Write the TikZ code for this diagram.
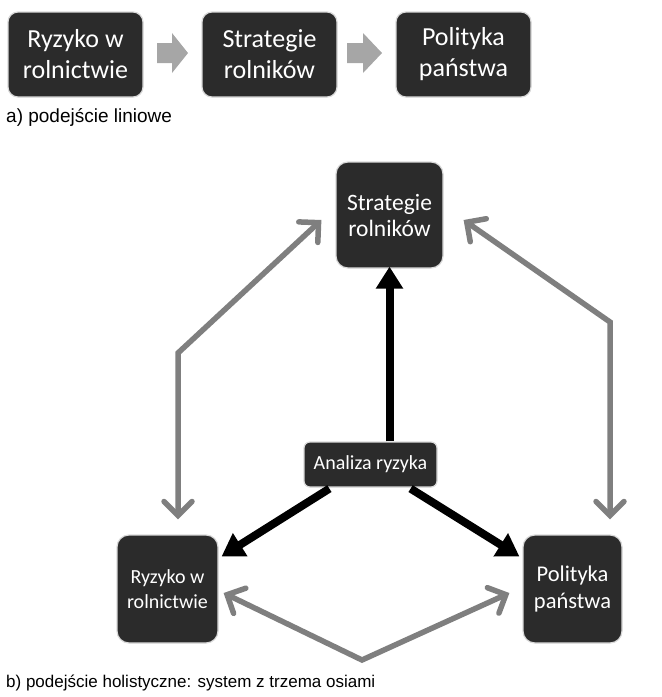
\documentclass[tikz,border=0pt]{standalone}
\usepackage{fontspec}
\setmainfont{Carlito}
\newfontfamily\capfont{Liberation Sans}
\usetikzlibrary{arrows.meta,calc}
\definecolor{boxfill}{HTML}{2B2B2B}
\definecolor{boxedge}{HTML}{D9D9D9}
\definecolor{grayarrow}{HTML}{7F7F7F}
\definecolor{blockarrow}{HTML}{A6A6A6}
\tikzset{
  box/.style={draw=boxedge, line width=1.2pt, fill=boxfill, rounded corners=10pt,
    text=white, align=center, inner sep=0pt},
  topbox/.style={box, minimum width=135pt, minimum height=85pt,
    font=\fontsize{26}{31}\selectfont},
  grayline/.style={draw=grayarrow, line width=5.5pt,
    {Straight Barb[length=14pt,width=28pt,line cap=round]}-{Straight Barb[length=14pt,width=28pt,line cap=round]}},
  blackline/.style={draw=black, line width=8pt, -{Triangle[length=22pt,width=26pt]}},
  caption/.style={anchor=west, inner sep=0pt},
}
\begin{document}
\begin{tikzpicture}[x=1pt,y=-1pt]
\useasboundingbox (0,0) rectangle (662,697);
% top row
\node[topbox] (r1) at (75.5,54.5) {Ryzyko w\\rolnictwie};
\node[topbox] (s1) at (269.5,54.5) {Strategie\\rolników};
\node[topbox] (p1) at (463.5,54.5) {Polityka\\państwa};
\fill[blockarrow] (157,43) -- (172,43) -- (172,33) -- (188,53) -- (172,73) -- (172,63) -- (157,63) -- cycle;
\fill[blockarrow] (347,43) -- (363,43) -- (363,33) -- (382,53) -- (363,73) -- (363,63) -- (347,63) -- cycle;
\node[caption, font=\capfont\fontsize{19}{22}\selectfont] (capa) at (6,117) {a) podejście liniowe};
% bottom
\node[box, minimum width=107pt, minimum height=106pt, rounded corners=12pt,
  font=\fontsize{23.5}{26}\selectfont] (st) at (389.5,215) {Strategie\\rolników};
\node[box, minimum width=133pt, minimum height=45pt, rounded corners=6pt,
  font=\fontsize{20}{22}\selectfont] (an) at (370.5,464.5) {Analiza ryzyka};
\node[box, minimum width=101pt, minimum height=108pt, rounded corners=12pt,
  font=\fontsize{20}{25}\selectfont] (ry) at (167.5,589) {Ryzyko w\\rolnictwie};
\node[box, minimum width=99pt, minimum height=108pt, rounded corners=12pt,
  font=\fontsize{22.5}{27}\selectfont] (po) at (572.5,589) {Polityka\\państwa};
% black arrows
\draw[blackline] (an.north -| st.south) -- ([yshift=2pt]st.south);
\draw[blackline] ($(an.south west)+(26,1)$) -- ($(ry.north east)+(3,22)$);
\draw[blackline] ($(an.south east)+(-27,1)$) -- ($(po.north west)+(-3,22)$);
% gray arrows
\coordinate (lc) at (178,353);
\coordinate (rc) at (610,322);
\coordinate (vb) at (362,660);
\draw[grayline, line join=miter] ($(st.west)+(-14,5)$) -- (lc) -- ($(ry.north)+(10.5,-15)$);
\draw[grayline, line join=miter] ($(st.east)+(20,5)$) -- (rc) -- ($(po.north)+(37.5,-15)$);
\draw[grayline, line join=miter] ($(ry.east)+(5,4)$) -- (vb) -- ($(po.west)+(-13,4)$);
\node[caption, font=\capfont\fontsize{17}{20}\selectfont] (capb) at (6,683) {b) podejście holistyczne: system z trzema osiami};
\end{tikzpicture}
\end{document}
